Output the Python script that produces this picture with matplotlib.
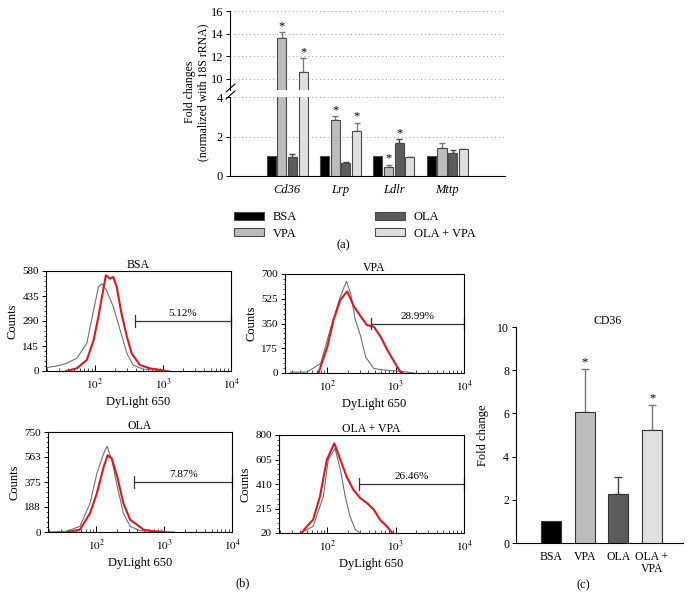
import matplotlib
matplotlib.use('Agg')
import matplotlib.pyplot as plt
import numpy as np
from matplotlib.ticker import AutoMinorLocator, FixedLocator, LogLocator, NullFormatter
from matplotlib.lines import Line2D
from matplotlib.patches import Patch

plt.rcParams['font.family'] = ['Liberation Serif', 'DejaVu Serif']
plt.rcParams['mathtext.fontset'] = 'stix'
plt.rcParams['font.size'] = 8

W, H = 691, 597
fig = plt.figure(figsize=(W / 100, H / 100), dpi=100)


def rect(x0, y0, x1, y1):
    return [x0 / W, 1 - y1 / H, (x1 - x0) / W, (y1 - y0) / H]


# ---------------- data: panel (a) ----------------
genes = ['Cd36', 'Lrp', 'Ldlr', 'Mttp']
groups = ['BSA', 'VPA', 'OLA', 'OLA + VPA']
bsa_vals = [1.0, 1.0, 1.0, 1.0]
vpa_vals = [13.65, 2.85, 0.46, 1.43]
ola_vals = [0.95, 0.66, 1.65, 1.14]
olavpa_vals = [10.6, 2.3, 0.95, 1.35]
bsa_err = [0, 0, 0, 0]
vpa_err = [0.45, 0.17, 0.11, 0.22]
ola_err = [0.15, 0.03, 0.2, 0.16]
olavpa_err = [1.2, 0.4, 0.03, 0.04]
bsa_sig = [0, 0, 0, 0]
vpa_sig = [1, 1, 1, 0]
ola_sig = [0, 0, 1, 0]
olavpa_sig = [1, 1, 0, 0]

colors = ['#000000', '#bcbcbc', '#5c5c5c', '#e0e0e0']
errcolors = ['#000000', '#777777', '#444444', '#777777']

# ---------------- data: panel (b) histograms (log10 fluorescence, counts) ----------------
bsa_gray_x = [1.29, 1.45, 1.58, 1.73, 1.88, 1.98, 2.05, 2.10, 2.17, 2.27, 2.37, 2.47, 2.56, 2.71, 2.96, 3.10]
bsa_gray_y = [20, 30, 44, 73, 160, 352, 487, 507, 468, 372, 237, 102, 35, 10, 6, 0]
bsa_red_x = [1.58, 1.73, 1.88, 1.98, 2.05, 2.12, 2.16, 2.22, 2.27, 2.32, 2.39, 2.47, 2.54, 2.66, 2.81, 2.96, 3.05]
bsa_red_y = [0, 15, 64, 179, 314, 468, 555, 536, 545, 487, 333, 198, 102, 35, 15, 6, 0]

vpa_gray_x = [1.46, 1.70, 1.90, 2.04, 2.19, 2.28, 2.34, 2.41, 2.49, 2.56, 2.68, 2.88, 3.07, 3.27]
vpa_gray_y = [5, 7, 66, 304, 541, 648, 565, 375, 256, 114, 31, 19, 12, 0]
vpa_red_x = [1.87, 2.00, 2.09, 2.19, 2.29, 2.39, 2.49, 2.58, 2.68, 2.78, 2.88, 2.98, 3.07, 3.10]
vpa_red_y = [0, 185, 375, 517, 577, 470, 399, 339, 327, 256, 161, 78, 7, 0]

ola_gray_x = [1.32, 1.57, 1.76, 1.91, 2.01, 2.11, 2.16, 2.23, 2.31, 2.40, 2.50, 2.65, 2.95, 3.15]
ola_gray_y = [0, 7, 42, 216, 440, 589, 643, 539, 340, 142, 42, 10, 5, 0]
ola_red_x = [1.57, 1.76, 1.91, 2.01, 2.11, 2.17, 2.23, 2.31, 2.40, 2.50, 2.60, 2.70, 2.85, 3.00]
ola_red_y = [0, 17, 142, 291, 489, 576, 551, 415, 216, 92, 55, 17, 5, 0]

olavpa_gray_x = [1.60, 1.79, 1.94, 2.01, 2.11, 2.19, 2.26, 2.33, 2.41, 2.48]
olavpa_gray_y = [20, 73, 311, 602, 694, 522, 311, 152, 46, 20]
olavpa_red_x = [1.62, 1.70, 1.79, 1.89, 1.99, 2.10, 2.19, 2.28, 2.38, 2.48, 2.58, 2.68, 2.77, 2.87, 2.95]
olavpa_red_y = [20, 73, 126, 311, 602, 734, 602, 469, 364, 298, 258, 205, 126, 73, 20]

hist_titles = ['BSA', 'VPA', 'OLA', 'OLA + VPA']
hist_yticks = [[0, 145, 290, 435, 580], [0, 175, 350, 525, 700],
               [0, 188, 375, 563, 750], [20, 215, 410, 605, 800]]
gate_pcts = ['5.12%', '28.99%', '7.87%', '26.46%']
gate_starts = [390, 430, 365, 285]

# ---------------- data: panel (c) ----------------
c_groups = ['BSA', 'VPA', 'OLA', 'OLA +\nVPA']
c_vals = [1.0, 6.05, 2.27, 5.25]
c_err = [0, 2.0, 0.8, 1.14]
c_sig = [0, 1, 0, 1]

# ================= panel (a) =================
ax_lo = fig.add_axes(rect(230, 97, 505, 176))
ax_hi = fig.add_axes(rect(230, 11, 505, 90))
vals_all = [bsa_vals, vpa_vals, ola_vals, olavpa_vals]
errs_all = [bsa_err, vpa_err, ola_err, olavpa_err]
sigs_all = [bsa_sig, vpa_sig, ola_sig, olavpa_sig]
xg = np.arange(len(genes))
offs = [-0.3, -0.1, 0.1, 0.3]
for ax in (ax_lo, ax_hi):
    for i in range(4):
        ax.bar(xg + offs[i], vals_all[i], width=0.17, color=colors[i],
               edgecolor='#4a4a4a', linewidth=0.8, zorder=3)
        for j in range(len(genes)):
            if errs_all[i][j] > 0:
                ax.errorbar(xg[j] + offs[i], vals_all[i][j], yerr=[[0], [errs_all[i][j]]],
                            fmt='none', ecolor=errcolors[i], elinewidth=0.9, capsize=2, zorder=2)
    ax.set_xlim(-1.07, 4.08)
    ax.grid(axis='y', linestyle=(0, (1, 3)), color='#999999', linewidth=0.7)
    ax.set_axisbelow(True)
    for s in ('top', 'right'):
        ax.spines[s].set_visible(False)
    ax.tick_params(axis='y', length=3, width=0.7, labelsize=9, pad=2)
    ax.spines['left'].set_linewidth(0.8)

ax_lo.set_ylim(0, 4)
ax_lo.set_yticks([0, 2, 4])
ax_hi.set_ylim(9, 16)
ax_hi.set_yticks([10, 12, 14, 16])
ax_hi.spines['bottom'].set_visible(False)
ax_hi.tick_params(axis='x', bottom=False, labelbottom=False)
ax_lo.set_xticks(xg)
ax_lo.set_xticklabels(genes, style='italic', fontsize=9)
ax_lo.tick_params(axis='x', length=0, pad=6)
ax_lo.spines['bottom'].set_linewidth(0.8)

for i in range(4):
    for j in range(len(genes)):
        if sigs_all[i][j]:
            top = vals_all[i][j] + errs_all[i][j]
            if top > 4:
                ax_hi.text(xg[j] + offs[i], top + 0.05, '*', ha='center', va='bottom', fontsize=9)
            else:
                ax_lo.text(xg[j] + offs[i], top + 0.02, '*', ha='center', va='bottom', fontsize=9)

# break marks
for yy in (88, 95):
    fig.add_artist(Line2D([226 / W, 235 / W], [1 - (yy + 4) / H, 1 - (yy - 4) / H],
                          color='black', lw=0.8))

fig.text(197 / W, 1 - 92 / H, 'Fold changes\n(normalized with 18S rRNA)', rotation=90,
         ha='center', va='center', fontsize=8.5, linespacing=1.15)

handles = [Patch(facecolor=colors[i], edgecolor='#4a4a4a', linewidth=0.8) for i in range(4)]
fig.legend(handles, groups, ncol=2, loc='upper left', bbox_to_anchor=(228 / W, 1 - 205 / H),
           frameon=False, fontsize=9, handlelength=2.4, handleheight=0.6,
           columnspacing=6.2, labelspacing=0.35, handletextpad=0.7, borderpad=0)
fig.text(343 / W, 1 - 245 / H, '(a)', ha='center', va='center', fontsize=9)

# ================= panel (b) =================
hist_rects = [(46, 271, 231, 371), (285, 274, 464, 373), (48, 432, 232, 532), (279, 435, 464, 533)]
hist_xmin = [1.28, 1.38, 1.29, 1.29]
curves = [(bsa_gray_x, bsa_gray_y, bsa_red_x, bsa_red_y),
          (vpa_gray_x, vpa_gray_y, vpa_red_x, vpa_red_y),
          (ola_gray_x, ola_gray_y, ola_red_x, ola_red_y),
          (olavpa_gray_x, olavpa_gray_y, olavpa_red_x, olavpa_red_y)]
for k in range(4):
    ax = fig.add_axes(rect(*hist_rects[k]))
    gx, gy, rx, ry = curves[k]
    ax.plot(10 ** np.array(gx), gy, color='#707070', lw=0.8)
    ax.plot(10 ** np.array(rx), ry, color='#e3161d', lw=1.5)
    ax.set_xscale('log')
    ax.set_xlim(10 ** hist_xmin[k], 1e4)
    yt = hist_yticks[k]
    ax.set_ylim(yt[0], yt[-1])
    ax.set_yticks(yt)
    ax.yaxis.set_minor_locator(AutoMinorLocator(5))
    ax.xaxis.set_major_locator(FixedLocator([1e2, 1e3, 1e4]))
    ax.set_xticklabels([r'$10^2$', r'$10^3$', r'$10^4$'])
    ax.xaxis.set_minor_locator(LogLocator(base=10, subs=np.arange(2, 10), numticks=20))
    ax.xaxis.set_minor_formatter(NullFormatter())
    ax.tick_params(axis='y', which='major', length=3, width=0.7, labelsize=8, pad=2)
    ax.tick_params(axis='y', which='minor', length=1.5, width=0.5)
    ax.tick_params(axis='x', which='major', direction='in', length=4, width=0.7, labelsize=8, pad=4)
    ax.tick_params(axis='x', which='minor', direction='in', length=2, width=0.5)
    for s in ax.spines.values():
        s.set_linewidth(0.8)
    ax.set_title(hist_titles[k], fontsize=8.5, pad=2)
    ax.set_ylabel('Counts', fontsize=9, labelpad=3)
    ax.set_xlabel('DyLight 650', fontsize=9, labelpad=3)
    gy_ = yt[2]
    rng = yt[-1] - yt[0]
    ax.plot([gate_starts[k], 1e4], [gy_, gy_], color='#333333', lw=0.9, clip_on=False)
    for xe in (gate_starts[k], 1e4):
        ax.plot([xe, xe], [gy_ - 0.06 * rng, gy_ + 0.06 * rng], color='#333333', lw=0.9, clip_on=False)
    ax.text(np.sqrt(gate_starts[k] * 1e4), gy_ + 0.03 * rng, gate_pcts[k], ha='center',
            va='bottom', fontsize=8)

fig.text(243 / W, 1 - 583 / H, '(b)', ha='center', va='center', fontsize=9)

# ================= panel (c) =================
ax_c = fig.add_axes(rect(516, 327, 683, 543))
xc = np.arange(len(c_groups))
ax_c.bar(xc, c_vals, width=0.6, color=colors, edgecolor='#333333', linewidth=0.8, zorder=3)
for j in range(len(c_groups)):
    if c_err[j] > 0:
        ax_c.errorbar(xc[j], c_vals[j], yerr=[[0], [c_err[j]]], fmt='none',
                      ecolor=errcolors[j], elinewidth=1.0, capsize=3, zorder=2)
    if c_sig[j]:
        ax_c.text(xc[j], c_vals[j] + c_err[j] + 0.02, '*', ha='center', va='bottom', fontsize=9)
ax_c.set_xlim(-1.04, 3.92)
ax_c.set_ylim(0, 10)
ax_c.set_yticks([0, 2, 4, 6, 8, 10])
ax_c.set_xticks(xc)
ax_c.set_xticklabels(c_groups, fontsize=8.5, linespacing=1.0)
ax_c.tick_params(axis='x', length=0, pad=6)
ax_c.tick_params(axis='y', length=3, width=0.7, labelsize=8.5, pad=2)
for s in ('top', 'right'):
    ax_c.spines[s].set_visible(False)
for s in ('left', 'bottom'):
    ax_c.spines[s].set_linewidth(0.8)
ax_c.set_ylabel('Fold change', fontsize=9, labelpad=6)
ax_c.text(0.55, 1.0, 'CD36', transform=ax_c.transAxes, ha='center', va='bottom', fontsize=8.5)
fig.text(583 / W, 1 - 585 / H, '(c)', ha='center', va='center', fontsize=9)

fig.savefig('out.png', dpi=100)
